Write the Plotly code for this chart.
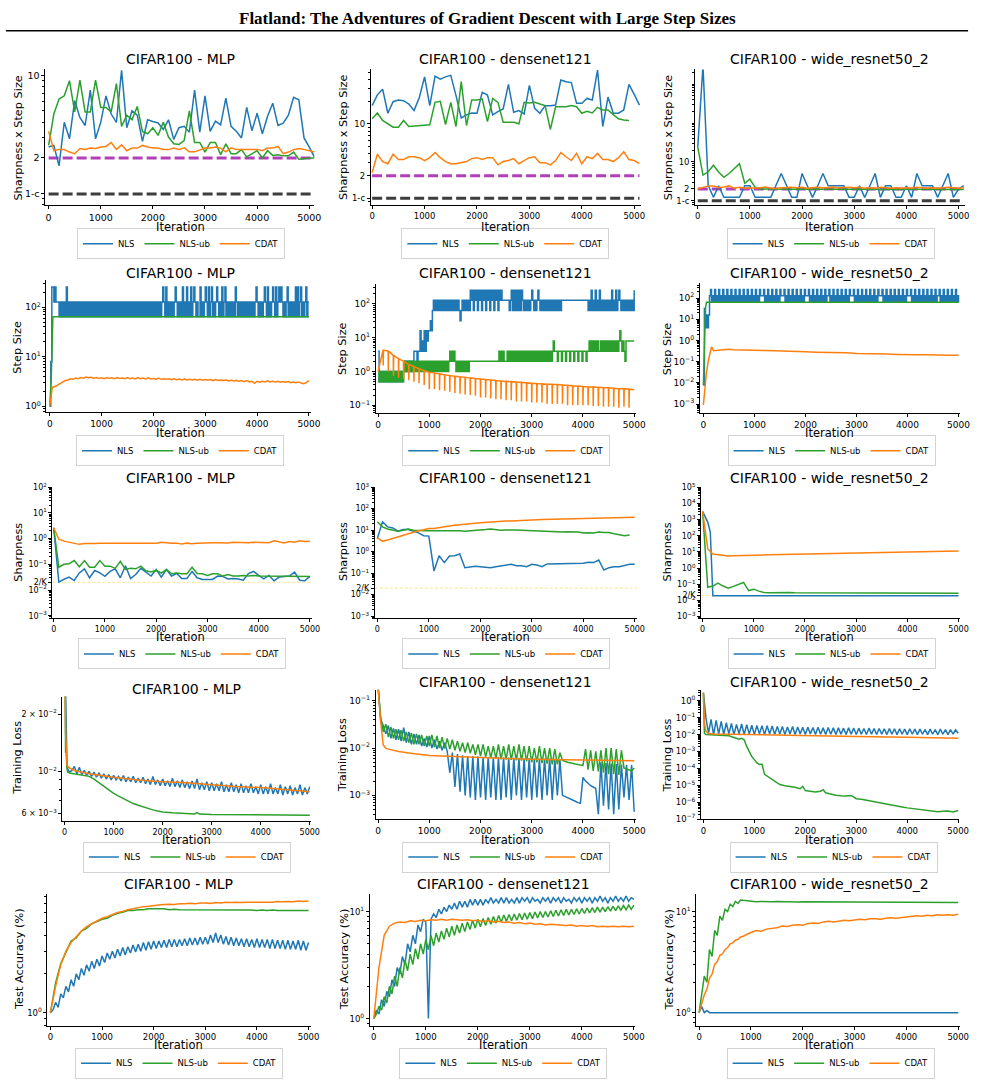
import math
import plotly.graph_objects as go

W, H = 985, 1085
BLUE, GREEN, ORANGE = "#1f77b4", "#2ca02c", "#ff7f0e"
PURPLE, DARK, YELLOW = "#b140b8", "#3d3d3d", "#ffe08a"
FONT = "DejaVu Sans"

SERIES = ["NLS", "NLS-ub", "CDAT"]
COLORS = [BLUE, GREEN, ORANGE]
MODELS = ["MLP", "densenet121", "wide_resnet50_2"]
YLABELS = ["Sharpness x Step Size", "Step Size", "Sharpness", "Training Loss", "Test Accuracy (%)"]
X_TICKS = [0, 1000, 2000, 3000, 4000, 5000]
ONE_MINUS_C = 0.99
TWO = 2.0
TWO_OVER_K = 0.02
REF_X = [0, 5100]

# ---------------- Row 1: Sharpness x Step Size (every 100 iterations) ----------------
r1c1_nls = [2.47,2.55,1.71,4.0,2.9,6.1,4.4,3.76,7.5,2.9,4.0,6.7,4.7,4.0,11.0,3.6,5.0,4.6,2.76,4.2,
            4.06,3.95,3.48,4.2,2.87,3.6,3.7,3.3,7.5,3.3,6.7,3.35,4.1,3.8,6.4,3.7,3.36,2.95,5.35,3.4,
            4.77,3.2,4.5,5.8,3.76,3.93,4.6,6.5,6.2,2.95,2.47,2.03]
r1c1_ub = [2.55,4.7,6.3,6.7,9.0,4.9,9.1,4.9,4.9,9.1,5.35,5.35,4.9,8.5,3.7,4.6,4.2,5.45,3.35,3.2,
           3.6,3.1,4.0,3.0,2.63,2.6,2.8,5.0,2.7,2.7,2.24,2.7,2.7,2.13,2.63,2.17,2.17,2.35,2.04,2.17,
           2.3,2.0,2.3,2.1,2.13,2.08,2.08,2.24,1.95,1.97,2.0,2.0]
r1c1_cdat = [3.35,2.3,2.35,2.35,2.24,2.17,2.4,2.36,2.42,2.4,2.47,2.5,2.7,2.36,2.58,2.3,2.43,2.42,2.55,2.47,
             2.43,2.42,2.36,2.35,2.42,2.36,2.43,2.25,2.25,2.35,2.42,2.42,2.47,2.42,2.25,2.43,2.35,2.35,2.35,2.35,
             2.36,2.3,2.42,2.42,2.5,2.17,2.24,2.35,2.4,2.36,2.3,2.24]
r1c2_nls = [17.6,24.6,29.3,13.9,19.9,20.9,20.5,18.5,15.1,22.7,43,17.6,44,40,43,45,24,12.0,13.2,14.0,
            13.9,26.5,24.4,13.2,14.6,15.9,34,14.3,15.1,13.6,33,16.2,13.9,17.6,17.6,17.9,39,37,36,18.9,
            18.9,22,21,53,9.2,23,13.9,13.9,15.4,34,25,17.9]
r1c2_ub = [11.7,14.0,11.1,10.0,9.0,9.0,11.1,9.2,9.3,9.5,9.7,9.7,19.5,20.1,9.8,19.5,9.2,37,9.5,21,
           21,21.6,10.7,22,19.5,10.5,10.5,10.5,10.0,19.5,19.1,19.5,18.5,17.6,8.4,17.0,17.0,17.0,17.6,17.0,
           13.9,14.8,14.0,16.7,15.4,15.4,13.3,11.7,11.3,11.1]
r1c2_cdat = [2.2,3.9,3.1,2.9,3.9,3.3,3.3,3.6,3.6,3.5,3.2,3.5,4.1,3.5,3.1,2.9,2.9,3.0,3.1,3.4,
             3.5,3.3,3.5,3.5,2.8,3.1,3.2,3.4,2.9,3.2,3.5,3.6,3.0,3.0,2.8,3.2,4.1,3.6,3.2,4.0,
             2.9,3.6,3.4,4.0,3.3,3.3,3.1,3.5,4.2,3.3,3.2,2.9]
r1c3_nls = [24,3000,2.5,1.22,2.43,1.22,1.22,1.22,1.22,2.43,2.43,1.22,1.22,1.22,1.22,2.5,5.0,2.5,1.22,1.22,
            5.0,2.43,1.22,2.43,5.0,2.43,2.43,2.43,2.43,1.22,1.22,2.43,1.22,2.43,5.0,1.22,2.43,2.43,1.22,1.22,
            2.43,1.22,5.0,2.43,2.43,2.43,1.22,2.43,5.0,1.22,2.0,2.43]
r1c3_ub = [24,4.56,5.55,8.2,5.5,4.0,5.0,6.7,9.0,2.8,3.6,2.2,2.0,2.0,1.98,2.0,1.97,2.0,1.98,1.98,
           1.97,1.98,1.98,1.97,1.97,1.98,1.97,1.97,1.96,1.97,1.97,1.96,1.97,1.96,1.96,1.97,1.96,1.96,1.96,1.95,
           1.96,1.96,1.95,1.96,1.95,1.95,1.96,1.95,1.95,1.95,1.95,1.95]
r1c3_cdat = [2.0,2.2,2.4,2.4,2.2,2.25,2.4,2.1,2.2,2.1,2.15,2.1,2.2,2.25,2.1,2.05,2.15,2.2,2.2,2.15,
             2.2,2.1,2.15,2.2,2.15,2.2,2.2,2.15,2.2,2.2,2.15,2.2,2.1,2.15,2.1,2.2,2.15,2.1,2.15,2.1,
             2.15,2.1,2.2,2.15,2.1,2.15,2.1,2.15,2.2,2.15,2.1,2.15]

# ---------------- Row 2: Step Size ----------------
# step-size levels every 20 iterations, one char per sample = log2(step): 'a'=-1 ... 'g'=-7, '0'..'8'
r2c1_nls_lv = ("0388787776" "7676768676" "7676767676" "7676767676" "7676767676" "7676767676"
               "7676767676" "7676767676" "7676767676" "7676767676" "7676767678" "7686767676"
               "7876767686" "7686768678" "7676686767" "8768678676" "7876768678" "6767676768"
               "7676767676" "7676767678" "7676767876" "8676787686" "7878767678" "6767676868"
               "6786767867" "7")
r2c1_ub_x = [0, 30, 60, 5000]
r2c1_ub = [1.0, 4.0, 64.0, 64.0]
r2c1_cdat = [1.0,2.4,2.5,2.7,2.9,3.1,3.3,3.4,3.6,3.5,3.7,3.6,3.8,3.7,3.9,3.75,3.85,3.7,3.8,3.65,
             3.75,3.6,3.8,3.65,3.75,3.6,3.8,3.65,3.7,3.6,3.8,3.6,3.7,3.55,3.8,3.6,3.7,3.55,3.75,3.55,
             3.65,3.5,3.7,3.5,3.6,3.5,3.6,3.45,3.6,3.45,3.55,3.4,3.55,3.4,3.5,3.4,3.5,3.35,3.5,3.35,
             3.45,3.35,3.45,3.3,3.45,3.3,3.4,3.3,3.4,3.25,3.35,3.25,3.35,3.2,3.3,3.15,3.3,3.1,3.2,2.9,
             3.2,3.05,3.2,3.1,3.25,3.1,3.2,3.1,3.2,3.05,3.15,3.05,3.15,3.0,3.1,3.0,3.1,2.95,2.85,3.0,3.3]
r2c2_nls_lv = ("2" "a0a0a0a0a0a0a0a0a0a0a0a0" "0101010101" "22212" "2423242434" "45467"
               "6767676767676767676767676" "5" "676767676"
               "8786878687868786878687868786878" "777777767" "86868686868"
               "767676767" "8" "76767" "8" "76767676767676767676767"
               "7777777777777777777777777" "676867686768676767676" "768676867876767"
               "676767676" "8")
r2c2_ub_lv = ("a" "0a0a0a0a0a0a0a0a0a0a0a0a" "101010101010101010101010101010101010101010101"
              "212121" "01010101010101" "1111111111111111111111111111" "2121211121212"
              "121212121212121" "2121212121212121212121212" "3"
              "2221222122212221222122212221222122" "3232323232" "23232323232323232323" "4" "3232"
              "1333333333")
r2c2_cdat_top = [1.0,4.3,4.0,3.0,2.4,2.0,1.6,1.4,1.2,1.05,0.95,0.9,0.85,0.8,0.76,0.72,0.7,0.67,0.64,0.62,
                 0.6,0.58,0.56,0.54,0.52,0.51,0.5,0.49,0.48,0.46,0.45,0.44,0.43,0.42,0.42,0.41,0.4,0.39,0.38,0.37,
                 0.36,0.35,0.35,0.34,0.33,0.33,0.32,0.31,0.31,0.3,0.29]
r2c2_cdat_dip = [1.5,1.0,0.75,0.65,0.6,0.55,0.5,0.45,0.4,0.3,0.3,0.28,0.27,0.25,0.23,0.22,0.21,0.2,0.19,0.17,
                 0.17,0.16,0.15,0.15,0.14,0.14,0.13,0.13,0.13,0.12,0.12,0.12,0.11,0.11,0.11,0.11,0.1,0.1,0.1,0.1,
                 0.1,0.095,0.095,0.09,0.09,0.09,0.085,0.09,0.085]
r2c3_nls_lv = ("g524247"
               "8676867686768676867686768676867686768676"
               "8676867687778676867686768676877786768676"
               "8676867686768777867686768676867686778676"
               "8676867686768676877786768676867686768676"
               "8676877786768676867686768676867687778676"
               "8676867686768676867686778676867686768676"
               "8676")
r2c3_ub_x = [0, 20, 40, 60, 5000]
r2c3_ub = [0.0078, 0.5, 32.0, 64.0, 64.0]
r2c3_cdat_x = [0,20,60,100,160,200,300,400,500,600,800,1000,1200,1400,1600,1800,2000,2200,2400,2600,
               2800,3000,3200,3400,3600,3800,4000,4200,4400,4600,4800,5000]
r2c3_cdat = [0.0009,0.004,0.03,0.12,0.5,0.33,0.35,0.36,0.38,0.36,0.36,0.34,0.34,0.33,0.31,0.3,0.29,0.28,0.28,0.26,
             0.26,0.24,0.24,0.23,0.23,0.22,0.21,0.21,0.21,0.2,0.2,0.2]

# ---------------- Row 3: Sharpness (every 100 iterations) ----------------
r3c1_nls = [2.65,0.0204,0.0263,0.032,0.0235,0.0464,0.067,0.03,0.0575,0.0464,0.034,0.053,0.067,0.03,0.088,0.028,0.04,
            0.07,0.05,0.035,0.063,0.032,0.063,0.035,0.044,0.028,0.028,0.053,0.03,0.026,0.026,0.026,0.035,0.034,
            0.027,0.028,0.027,0.024,0.044,0.053,0.037,0.027,0.037,0.023,0.032,0.034,0.035,0.05,0.024,0.023,0.034]
r3c1_ub = [2.65,0.077,0.1,0.105,0.14,0.08,0.14,0.077,0.077,0.14,0.085,0.085,0.07,0.13,0.063,0.07,0.067,0.085,
           0.056,0.05,0.058,0.046,0.063,0.043,0.046,0.043,0.043,0.077,0.044,0.043,0.037,0.043,0.043,0.035,0.04,
           0.035,0.035,0.037,0.035,0.037,0.035,0.035,0.035,0.035,0.034,0.034,0.034,0.034,0.033,0.033,0.034]
r3c1_cdat = [2.65,0.95,0.8,0.72,0.67,0.6,0.65,0.64,0.65,0.67,0.67,0.68,0.66,0.67,0.65,0.66,0.68,0.64,0.64,0.68,
             0.66,0.72,0.68,0.66,0.67,0.62,0.67,0.64,0.66,0.68,0.7,0.69,0.69,0.67,0.68,0.72,0.7,0.7,0.69,0.72,
             0.72,0.74,0.7,0.82,0.74,0.68,0.77,0.72,0.82,0.77,0.8]
r3c2_nls = [4.1,24.5,14.2,12.7,9.0,10.8,10.8,9.0,7.5,5.5,5.3,0.127,0.65,0.31,0.63,0.65,0.78,0.18,0.2,0.21,
            0.2,0.19,0.18,0.2,0.22,0.24,0.26,0.22,0.22,0.2,0.26,0.24,0.2,0.27,0.27,0.27,0.29,0.27,0.29,0.29,
            0.29,0.32,0.31,0.41,0.14,0.18,0.2,0.2,0.22,0.26,0.26]
r3c2_ub = [24.5,14.2,11.3,10,9.0,10,11.3,10,9.5,9.3,9.5,9.5,9.3,9.5,9.8,9.5,9.3,9.0,9.2,9.8,
           10.4,10.6,11.3,10.5,10,10.2,10.5,10.3,10,9.7,9.3,9.5,9.0,8.8,8.7,8.5,8.3,8.4,8.6,8.3,
           7.3,7.6,7.3,8.3,7.8,7.8,6.8,5.9,5.5,5.9]
r3c2_cdat = [4.4,3.1,3.5,4.1,4.9,5.9,7.0,8.3,9.3,10.4,12,12,12.8,14.2,15.8,17,18.3,19,20.5,21,
             22,23,24.5,25,26,26.5,27,28,29,29.5,30,30.5,31,31.5,32,33,33.5,34,34.5,35,
             36,36.5,37,37.5,38.5,38.5,39,39.5,40,40,40]
r3c3_nls_x = [0, 100, 150, 200, 5000]
r3c3_nls = [3100, 700, 170, 0.0195, 0.0195]
r3c3_ub = [3100,0.065,0.078,0.12,0.078,0.057,0.074,0.1,0.13,0.041,0.05,0.038,0.031,0.03,0.031,0.03,0.03,0.031,
           0.03,0.03,0.03,0.03,0.031,0.03,0.03,0.029,0.03,0.029,0.029,0.029,0.029,0.029,0.029,0.029,0.029,0.029,
           0.029,0.029,0.029,0.029,0.028,0.028,0.028,0.028,0.028,0.028,0.028,0.028,0.028,0.028,0.028]
r3c3_cdat = [3100,15.4,7.5,6.6,5.9,5.6,5.8,6.0,6.0,6.1,6.1,6.3,6.5,6.6,6.7,6.8,7.0,7.2,7.4,7.6,
             8.0,8.0,8.1,8.2,8.3,8.4,8.5,8.6,8.8,8.9,9.0,9.1,9.2,9.3,9.4,9.5,9.6,9.7,9.8,9.9,
             10.0,10.1,10.2,10.4,10.6,10.5,10.7,10.9,11.1,11.3,11.5]

# ---------------- Row 4: Training Loss ----------------
r4c1_nls = [0.05,
            0.0104,0.0099,0.0101,0.0106,0.0097,0.0105,0.0096,0.0101,0.0095,0.0100,
            0.0094,0.0099,0.0093,0.0098,0.0092,0.0097,0.0091,0.0096,0.0090,0.0095,
            0.0090,0.0094,0.0089,0.0095,0.0088,0.0093,0.0088,0.0094,0.0087,0.0092,
            0.0087,0.0093,0.0086,0.0091,0.0085,0.0094,0.0085,0.0090,0.0084,0.0091,
            0.0084,0.0089,0.0083,0.0092,0.0083,0.0089,0.0082,0.0090,0.0082,0.0088,
            0.0081,0.0089,0.0081,0.0091,0.0080,0.0087,0.0080,0.0088,0.0079,0.0087,
            0.0079,0.0086,0.0079,0.0088,0.0078,0.0085,0.0078,0.0087,0.0078,0.0085,
            0.0077,0.0086,0.0077,0.0084,0.0077,0.0086,0.0077,0.0083,0.0076,0.0085,
            0.0076,0.0083,0.0076,0.0086,0.0076,0.0082,0.0076,0.0085,0.0075,0.0083,
            0.0076,0.0084,0.0075,0.0082,0.0076,0.0085,0.0075,0.0082,0.0076,0.0083]
r4c1_ub_x = [0,20,30,45,60,100,200,300,400,500,600,700,800,900,1000,1100,1200,1300,1400,1500,1600,1700,
             1800,1900,2000,2200,2400,2650,2700,2750,3000,4000,5000]
r4c1_ub = [0.05,0.0125,0.013,0.0105,0.0099,0.0098,0.0097,0.0096,0.0095,0.0094,0.0091,0.0087,0.00835,0.00796,
           0.00765,0.0074,0.00717,0.00692,0.00676,0.00662,0.00649,0.00636,0.00626,0.00618,0.00611,0.00604,0.006,
           0.00596,0.00606,0.00595,0.00592,0.00589,0.00587]
r4c1_cdat_x = [0,20,50,100,200,500,1000,1500,2000,2500,3000,3500,4000,4500,5000]
r4c1_cdat = [0.05,0.016,0.0107,0.0104,0.0101,0.0097,0.0093,0.009,0.0088,0.0087,0.0085,0.0083,0.0082,0.008,0.0078]
r4c2_nls = [0.2,
            0.04,0.03,0.02,0.03,0.016,0.026,0.015,0.025,0.014,0.027,
            0.013,0.022,0.012,0.02,0.012,0.019,0.011,0.016,0.0105,0.018,
            0.01,0.015,0.0095,0.014,0.009,0.013,0.0085,0.003,0.008,0.0015,
            0.0075,0.0012,0.007,0.001,0.0068,0.0009,0.0068,0.0008,0.0066,0.0009,
            0.0065,0.0008,0.0065,0.0009,0.0064,0.0008,0.0064,0.0008,0.0063,0.0009,
            0.0063,0.0008,0.0062,0.001,0.0062,0.0008,0.0061,0.0009,0.0061,0.0008,
            0.006,0.0009,0.006,0.0008,0.006,0.001,0.006,0.0008,0.0059,0.001,
            0.0058,0.001,0.00095,0.0009,0.00085,0.0008,0.00075,0.0007,0.00068,0.0024,
            0.002,0.0018,0.0016,0.0015,0.0014,0.0004,0.005,0.0006,0.0048,0.0005,
            0.0047,0.0004,0.0046,0.0005,0.0045,0.0009,0.0044,0.0008,0.0044,0.00045]
r4c2_ub = [0.2,
           0.045,0.022,0.032,0.017,0.028,0.016,0.025,0.015,0.024,0.014,
           0.022,0.013,0.021,0.012,0.02,0.012,0.019,0.011,0.018,0.011,
           0.019,0.0105,0.018,0.01,0.017,0.0098,0.016,0.0095,0.015,0.009,
           0.014,0.0085,0.013,0.008,0.013,0.0078,0.012,0.0072,0.012,0.0068,
           0.012,0.0065,0.011,0.0062,0.011,0.006,0.012,0.0058,0.011,0.0057,
           0.012,0.0056,0.011,0.0055,0.012,0.0054,0.011,0.0052,0.011,0.005,
           0.01,0.005,0.011,0.0048,0.01,0.0047,0.01,0.0045,0.0095,0.0045,
           0.008,0.0055,0.0052,0.005,0.0049,0.0047,0.0046,0.0045,0.0044,0.0043,
           0.0095,0.0035,0.009,0.0033,0.0085,0.0032,0.009,0.003,0.01,0.0028,
           0.01,0.0028,0.0095,0.0027,0.009,0.0038,0.0036,0.0034,0.0033,0.0038]
r4c2_cdat_x = [0,50,100,150,200,400,600,800,1000,1500,2000,2500,3000,3500,4000,4500,5000]
r4c2_cdat = [0.2,0.036,0.0117,0.01,0.0095,0.0085,0.0079,0.0075,0.007,0.0066,0.0062,0.006,0.0058,0.0057,0.0055,0.0054,0.0054]
r4c3_nls = [3.0,0.1,0.012,0.08,0.01,0.07,0.011,0.06,0.01,0.05,0.011,
            0.045,0.01,0.04,0.011,0.042,0.01,0.038,0.011,0.036,0.01,
            0.035,0.011,0.034,0.01,0.033,0.011,0.032,0.01,0.03,0.011,
            0.03,0.01,0.028,0.011,0.03,0.01,0.028,0.011,0.027,0.01,
            0.027,0.011,0.026,0.01,0.027,0.0105,0.025,0.01,0.026,0.0105,
            0.025,0.01,0.025,0.0105,0.024,0.01,0.025,0.0105,0.024,0.01,
            0.024,0.0105,0.023,0.01,0.024,0.0105,0.023,0.01,0.023,0.0105,
            0.022,0.01,0.023,0.0105,0.022,0.01,0.022,0.0105,0.021,0.01,
            0.022,0.0105,0.021,0.01,0.021,0.0105,0.02,0.01,0.021,0.0105,
            0.02,0.01,0.021,0.0105,0.02,0.01,0.02,0.0105,0.019,0.012]
r4c3_ub_x = [0,20,50,200,400,500,600,700,750,800,850,900,950,1000,1050,1100,1150,1200,1300,1400,1500,1600,
             1700,1800,1900,1950,2000,2100,2200,2300,2350,2400,2500,2600,2700,2800,2900,3000,3100,3200,3300,
             3400,3500,3600,3700,3800,3900,4000,4100,4200,4300,4400,4500,4600,4700,4800,4900,5000]
r4c3_ub = [3.0,0.012,0.01,0.0095,0.009,0.0084,0.0067,0.0053,0.006,0.0049,0.002,0.001,5e-4,3.3e-4,2.1e-4,1.7e-4,
           1.8e-4,4.4e-5,2.8e-5,1.7e-5,1.1e-5,9.5e-6,8.7e-6,7.6e-6,6.3e-6,8.7e-6,4.9e-6,4.5e-6,4.0e-6,4.4e-6,
           5.5e-6,3.6e-6,3.0e-6,2.6e-6,2.4e-6,2.3e-6,2.5e-6,1.6e-6,1.5e-6,1.3e-6,1.2e-6,1.0e-6,8.5e-7,7.3e-7,
           6.8e-7,5.8e-7,5.2e-7,4.6e-7,4.2e-7,3.7e-7,3.3e-7,3.0e-7,2.8e-7,2.7e-7,2.9e-7,3.0e-7,2.6e-7,3.2e-7]
r4c3_cdat_x = [0,20,50,100,200,500,1000,2000,3000,4000,5000]
r4c3_cdat = [3.0,0.05,0.015,0.0114,0.011,0.0105,0.0096,0.0084,0.0076,0.007,0.0061]

# ---------------- Row 5: Test Accuracy (%) ----------------
r5c1_nls = [1.0,1.05,1.2,1.1,1.4,1.3,1.6,1.45,1.8,1.6,2.0,
            1.8,2.2,1.95,2.35,2.1,2.5,2.2,2.6,2.3,2.75,
            2.45,2.9,2.6,3.0,2.65,3.1,2.75,3.2,2.8,3.25,
            2.9,3.35,2.95,3.4,3.0,3.5,3.05,3.55,3.1,3.6,
            3.15,3.6,3.2,3.65,3.2,3.7,3.25,3.7,3.25,3.7,
            3.3,3.75,3.3,3.8,3.35,3.8,3.35,3.85,3.4,3.85,
            3.4,4.0,3.5,4.15,3.5,4.0,3.4,3.9,3.35,3.85,
            3.3,3.8,3.3,3.75,3.25,3.75,3.25,3.7,3.2,3.75,
            3.2,3.7,3.2,3.7,3.15,3.7,3.15,3.65,3.15,3.65,
            3.1,3.65,3.1,3.6,3.1,3.65,3.05,3.6,3.05,3.5]
r5c1_ub = [1.0,1.7,2.4,2.9,3.6,3.8,4.3,4.5,4.9,5.1,5.3,5.4,5.7,5.9,6.0,6.2,6.2,6.3,6.3,6.4,
           6.4,6.35,6.4,6.3,6.35,6.3,6.3,6.3,6.3,6.3,6.25,6.3,6.25,6.3,6.25,6.25,6.3,6.25,6.25,6.25,
           6.2,6.25,6.2,6.25,6.2,6.2,6.25,6.2,6.2,6.2,6.2]
r5c1_cdat = [1.0,1.6,2.35,3.0,3.5,3.9,4.3,4.65,4.9,5.2,5.4,5.55,5.8,6.0,6.1,6.3,6.4,6.55,6.65,6.7,
             6.8,6.85,6.9,6.95,6.9,7.0,7.0,7.05,7.0,7.1,7.1,7.05,7.15,7.1,7.2,7.15,7.2,7.15,7.2,7.2,
             7.25,7.2,7.25,7.2,7.3,7.25,7.3,7.25,7.35,7.3,7.35]
r5c2_nls = [1.0,1.2,1.1,1.5,1.3,1.8,1.6,2.3,2.0,3.0,2.6,
            3.8,3.2,5.0,4.2,6.0,5.0,7.5,6.5,8.5,8.0,
            1.0,8.5,9.5,8.8,10.5,9.5,11.0,10.0,11.5,10.5,
            12.0,10.5,12.5,11.0,12.5,11.0,13.0,11.5,13.0,11.5,
            13.0,11.5,13.0,12.0,13.5,12.0,13.0,12.0,13.5,12.0,
            13.5,12.0,13.0,12.0,13.5,12.0,13.5,12.5,13.5,12.0,
            13.5,12.5,13.0,12.0,13.5,12.5,13.5,12.0,13.5,12.5,
            13.5,12.0,13.5,12.5,13.0,12.0,13.5,12.5,13.5,12.0,
            13.5,12.5,13.5,12.0,13.5,12.5,14.0,12.5,13.5,12.0,
            13.5,12.5,14.0,12.5,13.5,12.5,14.0,12.5,13.5,13.0]
r5c2_ub = [1.0,
           1.1,1.3,1.2,1.6,1.4,2.0,1.7,2.5,2.0,3.0,
           2.4,3.5,2.8,4.0,3.2,4.5,3.6,5.0,4.0,5.5,
           4.4,6.0,4.8,6.3,5.2,6.6,5.5,7.0,5.8,7.3,
           6.0,7.5,6.3,7.8,6.5,8.0,6.8,8.3,7.0,8.5,
           7.2,8.6,7.4,8.8,7.6,9.0,7.8,9.2,8.0,9.3,
           8.1,9.4,8.2,9.5,8.3,9.6,8.4,9.7,8.5,9.8,
           8.6,9.9,8.7,10.0,8.8,10.0,8.9,10.2,9.0,10.3,
           9.1,10.4,9.2,10.5,9.3,10.5,9.4,10.6,9.5,10.7,
           9.6,10.8,9.7,10.9,9.8,11.0,9.9,11.0,10.0,11.1,
           10.1,11.2,10.2,11.3,10.3,11.4,10.4,11.5,10.5,11.5]
r5c2_cdat = [1.0,3.0,6.0,7.3,7.8,8.0,7.9,8.2,8.1,8.3,8.2,8.4,8.3,8.5,8.3,8.5,8.4,8.3,8.4,8.2,
             8.3,8.1,8.2,8.0,8.1,7.9,8.0,7.8,7.9,7.7,7.8,7.6,7.7,7.5,7.6,7.5,7.5,7.4,7.5,7.3,
             7.4,7.3,7.4,7.2,7.3,7.2,7.3,7.2,7.3,7.2,7.3]
r5c3_nls_x = [0, 50, 100, 150, 200, 5000]
r5c3_nls = [1.0, 1.15, 1.0, 1.05, 1.0, 1.0]
r5c3_x = [0,50,100,150,200,250,300,350,400,450,500,550,600,650,700,750,800,850,900,950,1000,
          1100,1200,1300,1400,1500,1600,1700,1800,1900,2000,2100,2200,2300,2400,2500,2600,2700,2800,2900,3000,
          3100,3200,3300,3400,3500,3600,3700,3800,3900,4000,4100,4200,4300,4400,4500,4600,4700,4800,4900,5000]
r5c3_ub = [1.0,1.6,2.3,2.0,4.2,3.6,6.5,5.8,9.0,8.2,10.5,10.0,11.8,11.2,12.6,12.0,13.0,12.9,12.8,12.6,12.6,
           12.5,12.6,12.5,12.5,12.6,12.5,12.5,12.5,12.4,12.5,12.5,12.4,12.5,12.4,12.4,12.5,12.4,12.4,12.4,12.4,
           12.4,12.3,12.4,12.4,12.3,12.4,12.4,12.3,12.3,12.4,12.3,12.3,12.3,12.3,12.3,12.3,12.3,12.3,12.3,12.3]
r5c3_cdat = [1.0,1.2,1.5,1.7,2.2,2.4,3.0,3.2,3.7,3.8,4.2,4.4,4.8,4.9,5.2,5.3,5.6,5.7,5.9,6.0,6.2,
             6.5,6.4,6.7,6.8,6.9,7.2,7.1,7.3,7.4,7.3,7.6,7.7,7.6,7.9,8.0,7.9,8.1,8.2,8.1,8.3,
             8.4,8.3,8.5,8.5,8.4,8.6,8.7,8.6,8.7,8.8,9.0,9.1,9.0,9.2,9.1,9.3,9.2,9.3,9.2,9.4]


# ---------------- helpers ----------------
LEVEL = {c: -(i + 1) for i, c in enumerate("abcdefg")}
LEVEL.update({str(i): i for i in range(9)})


def levels(s):
    return [2.0 ** LEVEL[ch] for ch in s]


def grid(vals, end=5000):
    n = len(vals)
    return [end * i / (n - 1) for i in range(n)]


def sawtooth(top, dip):
    xs, ys = [0], [top[0]]
    for k in range(1, len(top)):
        if k - 1 < len(dip):
            xs += [100 * k - 3, 100 * k, 100 * k + 5]
            ys += [top[k], dip[k - 1], top[k]]
        else:
            xs.append(100 * k)
            ys.append(top[k])
    return xs, ys


def sup(k):
    return "10<sup>" + str(k).replace("-", "\u2212") + "</sup>"


def decades(lo, hi):
    return [10.0 ** k for k in range(lo, hi + 1)], [sup(k) for k in range(lo, hi + 1)]


def minor_vals(r, major):
    lo, hi = r
    out = []
    for k in range(math.floor(lo) - 1, math.ceil(hi) + 1):
        for m in range(1, 10):
            v = m * 10.0 ** k
            lv = math.log10(v)
            if lo <= lv <= hi and all(abs(lv - math.log10(t)) > 0.02 for t in major):
                out.append(v)
    return out


def ser(x, y, shape="linear"):
    return (x, y, shape)


r2c2_cdat_x, r2c2_cdat = sawtooth(r2c2_cdat_top, r2c2_cdat_dip)

dt1v, dt1t = [ONE_MINUS_C, TWO, 10], ["1-c", "2", "10"]
r2a = decades(0, 2); r2b = decades(-1, 2); r2c = decades(-3, 2)
r3a = decades(-3, 2); r3b = decades(-3, 3); r3c = decades(-3, 5)
r4b = decades(-3, -1); r4c = decades(-7, 0)
r5b = decades(0, 1)

R1_REFS = [(REF_X, [TWO, TWO], PURPLE, 3, "10px,4px"), (REF_X, [ONE_MINUS_C, ONE_MINUS_C], DARK, 3, "10px,4px")]


def k_ref(xr):
    return [(list(xr), [TWO_OVER_K, TWO_OVER_K], YELLOW, 1, "3px,2px")]


PANELS = [
    # row 1
    dict(dom=(45, 317, 65, 202), xr=[-60, 5100], yr=[-0.099, 1.05], yt=(dt1v, dt1t), refs=R1_REFS, tf=9.5,
         title=(182, 55), leg=(182, 241), xt=(182, 224), yl=(18, 134),
         series=[ser(grid(r1c1_nls, 5100), r1c1_nls), ser(grid(r1c1_ub, 5100), r1c1_ub), ser(grid(r1c1_cdat, 5100), r1c1_cdat)]),
    dict(dom=(374, 647, 65, 202), xr=[-25, 5125], yr=[-0.096, 1.734], yt=(dt1v, dt1t), refs=R1_REFS, tf=8.5,
         title=(510, 55), leg=(510, 241), xt=(510, 224), yl=(347, 134),
         series=[ser(grid(r1c2_nls, 5100), r1c2_nls), ser(grid(r1c2_ub, 4900), r1c2_ub), ser(grid(r1c2_cdat, 5100), r1c2_cdat)]),
    dict(dom=(702, 975, 65, 202), xr=[-50, 5125], yr=[-0.115, 3.38], yt=(dt1v, dt1t), refs=R1_REFS, tf=8.5,
         title=(838, 55), leg=(839, 241), xt=(838, 224), yl=(675, 134),
         series=[ser(grid(r1c3_nls, 5100), r1c3_nls), ser(grid(r1c3_ub, 5100), r1c3_ub), ser(grid(r1c3_cdat, 5100), r1c3_cdat)]),
    # row 2
    dict(dom=(46, 314, 278, 411), xr=[-63, 5050], yr=[-0.12, 2.54], yt=r2a, refs=[], tf=9,
         title=(182, 270), leg=(181, 450), xt=(182, 432), yl=(17, 345),
         series=[ser(grid(r2c1_nls_lv), levels(r2c1_nls_lv), "hv"), ser(r2c1_ub_x, r2c1_ub), ser(grid(r2c1_cdat), r2c1_cdat)]),
    dict(dom=(379, 642, 282, 412), xr=[-45, 5032], yr=[-1.235, 2.58], yt=r2b, refs=[], tf=9,
         title=(510, 270), leg=(511, 450), xt=(510, 432), yl=(346, 347),
         series=[ser(grid(r2c2_nls_lv), levels(r2c2_nls_lv), "hv"), ser(grid(r2c2_ub_lv), levels(r2c2_ub_lv), "hv"), ser(r2c2_cdat_x, r2c2_cdat)]),
    dict(dom=(707, 970, 281, 412), xr=[-64, 5032], yr=[-3.43, 2.69], yt=r2c, refs=[], tf=9,
         title=(838, 270), leg=(840, 450), xt=(838, 432), yl=(674, 347),
         series=[ser(grid(r2c3_nls_lv), levels(r2c3_nls_lv), "hv"), ser(r2c3_ub_x, r2c3_ub), ser(r2c3_cdat_x, r2c3_cdat)]),
    # row 3
    dict(dom=(52, 315, 486, 619), xr=[-25, 5050], yr=[-3.1, 2.03],
         yt=(r3a[0] + [TWO_OVER_K], r3a[1] + ["2/K"]), refs=k_ref([-25, 5050]), tf=8,
         title=(182, 477), leg=(183, 655), xt=(182, 638), yl=(18, 552),
         series=[ser(grid(r3c1_nls), r3c1_nls), ser(grid(r3c1_ub), r3c1_ub), ser(grid(r3c1_cdat), r3c1_cdat)]),
    dict(dom=(378, 643, 486, 619), xr=[-50, 5040], yr=[-3.1, 3.03],
         yt=(r3b[0] + [TWO_OVER_K], r3b[1] + ["2/K"]), refs=k_ref([-50, 5040]), tf=8,
         title=(510, 477), leg=(511, 655), xt=(510, 638), yl=(347, 552),
         series=[ser(grid(r3c2_nls), r3c2_nls), ser(grid(r3c2_ub, 4900), r3c2_ub), ser(grid(r3c2_cdat), r3c2_cdat)]),
    dict(dom=(708, 970, 486, 619), xr=[-30, 5032], yr=[-3.1, 5.04],
         yt=(r3c[0] + [TWO_OVER_K], r3c[1] + ["2/K"]), refs=k_ref([-30, 5032]), tf=8,
         title=(838, 477), leg=(840, 655), xt=(838, 638), yl=(674, 552),
         series=[ser(r3c3_nls_x, r3c3_nls), ser(grid(r3c3_ub), r3c3_ub), ser(grid(r3c3_cdat), r3c3_cdat)]),
    # row 4
    dict(dom=(62, 313, 698, 824), xr=[-47, 5015], yr=[-2.264, -1.607],
         yt=([0.006, 0.01, 0.02], ["6 \u00d7 10<sup>\u22123</sup>", "10<sup>\u22122</sup>", "2 \u00d7 10<sup>\u22122</sup>"]),
         refs=[], tf=8, title=(188, 690), leg=(188, 860), xt=(188, 843), yl=(17, 760),
         series=[ser(grid(r4c1_nls), r4c1_nls), ser(r4c1_ub_x, r4c1_ub), ser(r4c1_cdat_x, r4c1_cdat)]),
    dict(dom=(379, 642, 691, 822), xr=[-45, 5032], yr=[-3.51, -0.763], yt=r4b, refs=[], tf=9,
         title=(510, 683), leg=(511, 860), xt=(510, 843), yl=(345, 757),
         series=[ser(grid(r4c2_nls), r4c2_nls), ser(grid(r4c2_ub), r4c2_ub), ser(r4c2_cdat_x, r4c2_cdat)]),
    dict(dom=(708, 969, 691, 822), xr=[-45, 5020], yr=[-7.02, 0.66], yt=r4c, refs=[], tf=8.5,
         title=(838, 683), leg=(842, 860), xt=(838, 843), yl=(674, 757),
         series=[ser(grid(r4c3_nls), r4c3_nls), ser(r4c3_ub_x, r4c3_ub), ser(r4c3_cdat_x, r4c3_cdat)]),
    # row 5
    dict(dom=(47, 313, 897, 1030), xr=[-57, 5038], yr=[-0.1, 0.923], yt=([1.0], [sup(0)]), refs=[], tf=8.5,
         title=(180, 887), leg=(180, 1068), xt=(180, 1050), yl=(18, 963),
         series=[ser(grid(r5c1_nls), r5c1_nls), ser(grid(r5c1_ub), r5c1_ub), ser(grid(r5c1_cdat), r5c1_cdat)]),
    dict(dom=(373, 641, 897, 1030), xr=[-76, 5019], yr=[-0.065, 1.167], yt=r5b, refs=[], tf=8.5,
         title=(508, 887), leg=(508, 1068), xt=(508, 1050), yl=(347, 963),
         series=[ser(grid(r5c2_nls), r5c2_nls), ser(grid(r5c2_ub), r5c2_ub), ser(grid(r5c2_cdat), r5c2_cdat)]),
    dict(dom=(703, 970, 897, 1030), xr=[-57, 5038], yr=[-0.127, 1.176], yt=r5b, refs=[], tf=8.5,
         title=(838, 887), leg=(839, 1068), xt=(838, 1050), yl=(676, 963),
         series=[ser(r5c3_nls_x, r5c3_nls), ser(r5c3_x, r5c3_ub), ser(r5c3_x, r5c3_cdat)]),
]

fig = go.Figure()
layout = dict(width=W, height=H, margin=dict(l=0, r=0, t=0, b=0), paper_bgcolor="white",
              plot_bgcolor="white", font=dict(family=FONT, color="black"), showlegend=True)
annotations = []

for n, p in enumerate(PANELS, start=1):
    s = "" if n == 1 else str(n)
    xref, yref, leg = "x" + s, "y" + s, "legend" + s
    x0, x1, y0, y1 = p["dom"]
    row = (n - 1) // 3
    col = (n - 1) % 3
    tickfont = dict(family=FONT, size=p["tf"], color="black")
    layout["xaxis" + s] = dict(domain=[x0 / W, x1 / W], range=p["xr"], anchor=yref, showline=True,
                               linecolor="black", linewidth=1, ticks="outside", ticklen=3, tickwidth=0.8,
                               tickcolor="black", tickmode="array", tickvals=X_TICKS,
                               ticktext=[str(v) for v in X_TICKS], tickfont=tickfont, showgrid=False,
                               zeroline=False)
    tv, tt = p["yt"]
    layout["yaxis" + s] = dict(domain=[1 - y1 / H, 1 - y0 / H], type="log", range=p["yr"], anchor=xref,
                               showline=True, linecolor="black", linewidth=1, ticks="outside", ticklen=3,
                               tickwidth=0.8, tickcolor="black", tickmode="array", tickvals=tv, ticktext=tt,
                               tickfont=tickfont, showgrid=False, zeroline=False,
                               minor=dict(tickmode="array", tickvals=minor_vals(p["yr"], tv), ticks="outside",
                                          ticklen=2, tickwidth=0.6, tickcolor="black", showgrid=False))
    for rx, ry, c, wd, dash in p["refs"]:
        fig.add_trace(go.Scatter(x=rx, y=ry, mode="lines", line=dict(color=c, width=wd, dash=dash),
                                 showlegend=False, hoverinfo="skip", xaxis=xref, yaxis=yref))
    for name, c, (sx, sy, shp) in zip(SERIES, COLORS, p["series"]):
        fig.add_trace(go.Scatter(x=sx, y=sy, mode="lines", name=name, line=dict(color=c, width=1.5, shape=shp),
                                 xaxis=xref, yaxis=yref, legend=leg))
    lx, ly = p["leg"]
    layout[leg] = dict(x=lx / W, y=1 - ly / H, xanchor="center", yanchor="middle", orientation="h",
                       bordercolor="#d3d3d3", borderwidth=1, bgcolor="white",
                       font=dict(family=FONT, size=8.5, color="black"), itemwidth=30, traceorder="normal")
    tx, ty = p["title"]
    annotations.append(dict(text="CIFAR100 - " + MODELS[col], x=tx / W, y=1 - ty / H, xref="paper",
                            yref="paper", showarrow=False, xanchor="center", yanchor="middle",
                            font=dict(family=FONT, size=14, color="black")))
    xx, xy = p["xt"]
    annotations.append(dict(text="Iteration", x=xx / W, y=1 - xy / H, xref="paper", yref="paper",
                            showarrow=False, xanchor="center", yanchor="middle",
                            font=dict(family=FONT, size=11.5, color="black")))
    yx, yy = p["yl"]
    annotations.append(dict(text=YLABELS[row], x=yx / W, y=1 - yy / H, xref="paper", yref="paper",
                            showarrow=False, xanchor="center", yanchor="middle", textangle=-90,
                            font=dict(family=FONT, size=11.3, color="black")))

annotations.append(dict(text="<b>Flatland: The Adventures of Gradient Descent with Large Step Sizes</b>",
                        x=492 / W, y=1 - 14 / H, xref="paper", yref="paper", showarrow=False,
                        xanchor="center", yanchor="middle",
                        font=dict(family="Liberation Serif", size=17, color="black")))
layout["annotations"] = annotations
layout["shapes"] = [dict(type="line", xref="paper", yref="paper", x0=5 / W, x1=978 / W,
                         y0=1 - 26 / H, y1=1 - 26 / H, line=dict(color="black", width=1.5))]
fig.update_layout(**layout)
fig.write_html("out.html",
               post_script="document.body.style.margin='0';document.documentElement.style.overflow='hidden';")
